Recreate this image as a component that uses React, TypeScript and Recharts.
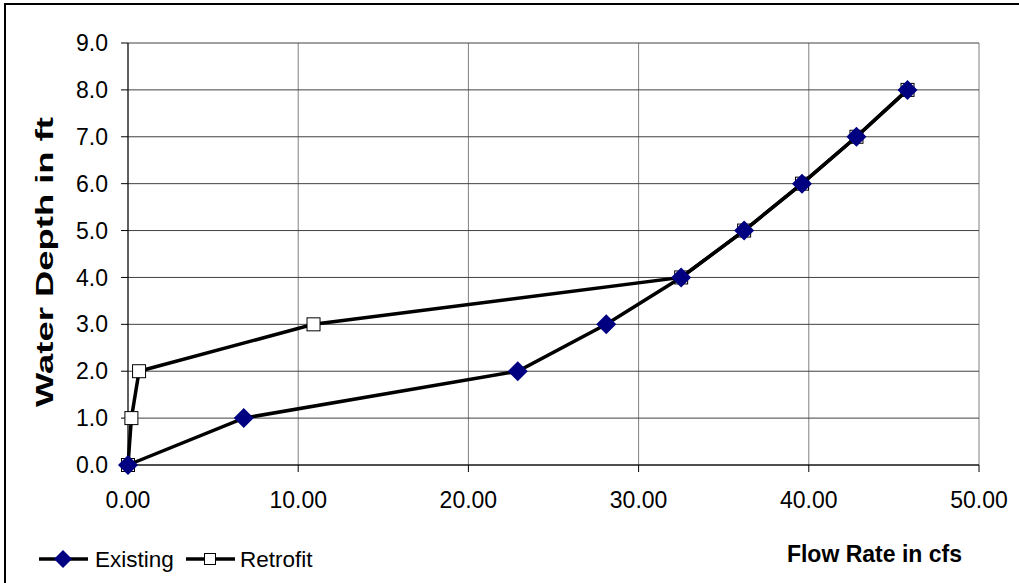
import React from 'react';
import { ScatterChart, Scatter, XAxis, YAxis, CartesianGrid, Legend, Label } from 'recharts';

// water depth (ft) at each rating point
const depthFt = [0, 1, 2, 3, 4, 5, 6, 7, 8];
// flow rate (cfs)
const existingFlow = [0, 6.8, 22.9, 28.1, 32.5, 36.2, 39.6, 42.8, 45.8];
const retrofitFlow = [0, 0.2, 0.65, 10.9, 32.5, 36.2, 39.6, 42.8, 45.8];

const xTicks = [0, 10, 20, 30, 40, 50];
const yTicks = [0, 1, 2, 3, 4, 5, 6, 7, 8, 9];

const existingData = depthFt.map((y, i) => ({ x: existingFlow[i], y }));
const retrofitData = depthFt.map((y, i) => ({ x: retrofitFlow[i], y }));

const FONT = '"Liberation Sans", Arial, sans-serif';
const NAVY = '#000080';

const Diamond = (props: any) => {
  const { cx, cy } = props;
  const r = 10;
  return <polygon points={`${cx},${cy - r} ${cx + r},${cy} ${cx},${cy + r} ${cx - r},${cy}`} fill={NAVY} />;
};

const Square = (props: any) => {
  const { cx, cy } = props;
  return <rect x={cx - 6.5} y={cy - 6.5} width={13} height={13} fill="#fff" stroke="#000" strokeWidth={1} />;
};

const LegendBox = () => (
  <svg width={320} height={40} style={{ display: 'block' }}>
    <line x1={39} y1={19} x2={88} y2={19} stroke="#000" strokeWidth={3.5} />
    <polygon points="63,10 72,19 63,28 54,19" fill={NAVY} />
    <text x={95} y={27} fontFamily={FONT} fontSize={22.5} fill="#000">Existing</text>
    <line x1={186} y1={19} x2={235} y2={19} stroke="#000" strokeWidth={3.5} />
    <rect x={204.5} y={13.5} width={11} height={11} fill="#fff" stroke="#000" strokeWidth={1} />
    <text x={240} y={27} fontFamily={FONT} fontSize={22.5} fill="#000">Retrofit</text>
  </svg>
);

export default function App() {
  return (
    <div style={{ position: 'fixed', left: 0, top: 0, width: 1019, height: 583, background: '#fff', fontFamily: FONT, overflow: 'hidden' }}>
      {/* frame: only the top and left edges fall inside the picture */}
      <div style={{ position: 'absolute', left: 4, top: 3, width: 1014, height: 600, borderTop: '2px solid #000', borderLeft: '2px solid #000' }} />
      <ScatterChart width={1019} height={583} margin={{ top: 43, right: 40, left: 0, bottom: 0 }}>
        <CartesianGrid horizontal={false} stroke="#808080" />
        <CartesianGrid vertical={false} stroke="#404040" />
        <XAxis
          type="number"
          dataKey="x"
          domain={[0, 50]}
          ticks={xTicks}
          height={118}
          tickSize={7}
          tickMargin={20}
          stroke="#000"
          tick={{ fill: '#000', fontSize: 23, fontFamily: FONT }}
          tickFormatter={(v: number) => v.toFixed(2)}
        >
          <Label
            content={() => (
              <text x={962} y={562} textAnchor="end" fontFamily={FONT} fontSize={23} fontWeight="bold" fill="#000">
                Flow Rate in cfs
              </text>
            )}
          />
        </XAxis>
        <YAxis
          type="number"
          dataKey="y"
          domain={[0, 9]}
          ticks={yTicks}
          width={128}
          tickSize={7}
          tickMargin={13}
          stroke="#000"
          tick={{ fill: '#000', fontSize: 23, fontFamily: FONT }}
          tickFormatter={(v: number) => v.toFixed(1)}
        >
          <Label
            content={() => (
              <text
                x={53}
                y={262}
                transform="rotate(-90 53 262)"
                textAnchor="middle"
                fontFamily={FONT}
                fontSize={23}
                fontWeight="bold"
                fill="#000"
                textLength={290}
                lengthAdjust="spacingAndGlyphs"
              >
                Water Depth in ft
              </text>
            )}
          />
        </YAxis>
        <Legend
          layout="horizontal"
          verticalAlign="middle"
          align="center"
          content={() => <LegendBox />}
          wrapperStyle={{ left: 0, top: 540, width: 320 }}
        />
        <Scatter
          name="Retrofit"
          data={retrofitData}
          line={{ stroke: '#000', strokeWidth: 3.5, fill: 'none' }}
          shape={<Square />}
          isAnimationActive={false}
        />
        <Scatter
          name="Existing"
          data={existingData}
          line={{ stroke: '#000', strokeWidth: 3.5, fill: 'none' }}
          shape={<Diamond />}
          isAnimationActive={false}
        />
      </ScatterChart>
    </div>
  );
}
